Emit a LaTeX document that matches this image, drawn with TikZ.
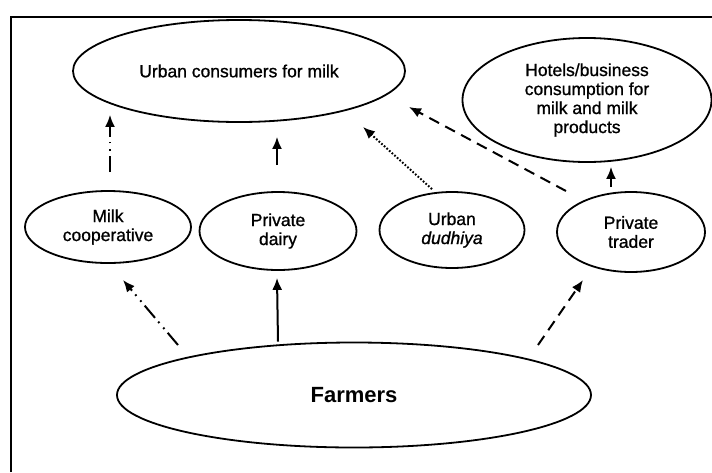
\documentclass[tikz,border=0pt]{standalone}
\usepackage{fontspec}
\setmainfont{Liberation Sans}[UprightFeatures={FakeBold=1.0},ItalicFeatures={FakeBold=1.0}]
\usetikzlibrary{shapes.geometric,arrows.meta,calc}
\tikzset{
  bub/.style={ellipse, draw, line width=1.8pt, inner sep=0pt, align=center,
    font=\fontsize{17.5}{19}\selectfont},
  arr/.style={line width=2pt, -{Latex[length=12pt,width=10pt]}},
  ddot/.style={arr, dash pattern=on 16pt off 5pt on 1.8pt off 6pt on 1.8pt off 5pt},
  dsh/.style={arr, dash pattern=on 11pt off 7pt},
  dtt/.style={arr, dash pattern=on 1.7pt off 1.8pt},
}
\begin{document}
\begin{tikzpicture}[x=1pt,y=-1pt]
\useasboundingbox (0,0) rectangle (712,472);
\fill[white] (0,0) rectangle (712,472);
\draw[line width=2.4pt] (11,472) -- (11,17) -- (712,17);

\node[bub, minimum width=332pt, minimum height=102pt] (urban) at (239,71) {Urban consumers for milk};
\node[bub, minimum width=249pt, minimum height=124pt] (hotels) at (587,100) {Hotels/business\\consumption for\\milk and milk\\products};
\node[bub, minimum width=166pt, minimum height=72pt] (coop) at (108,227) {Milk\\cooperative};
\node[bub, minimum width=157pt, minimum height=78pt] (dairy) at (278,231) {Private\\dairy};
\node[bub, minimum width=145pt, minimum height=76pt] (dudhiya) at (452,230) {Urban\\\textit{dudhiya}};
\node[bub, minimum width=148pt, minimum height=80pt] (trader) at (631,232) {Private\\trader};
\node[bub, minimum width=474pt, minimum height=105pt, font=\fontsize{22}{24}\selectfont\bfseries] (farmers) at (354,395) {Farmers};

% to urban consumers
\draw[ddot] ($(coop.north)+(2,-18)$) -- ($(coop.north |- urban.south)+(2,-8)$);
\draw[arr] ($(dairy.north)+(-1,-26)$) -- ($(dairy.north |- urban.south)+(-1,14)$);
\draw[dtt] ($(dudhiya.north)+(-20,-2)$) -- ($(urban)+(124,56)$);
\draw[dsh] ($(trader)+(-65,-41)$) -- ($(urban)+(170,36)$);
% to hotels
\draw[dsh] ($(trader.north)+(-20,-4)$) -- ($(trader.north |- hotels.south)+(-20,4)$);
% from farmers
\draw[ddot] ($(farmers)+(-176,-50)$) -- ($(coop)+(15,53)$);
\draw[arr] (farmers.north -| dairy.south) -- ($(dairy.south)+(-1,7)$);
\draw[dsh] ($(farmers)+(184,-50)$) -- ($(trader)+(-48,48)$);
\end{tikzpicture}
\end{document}
